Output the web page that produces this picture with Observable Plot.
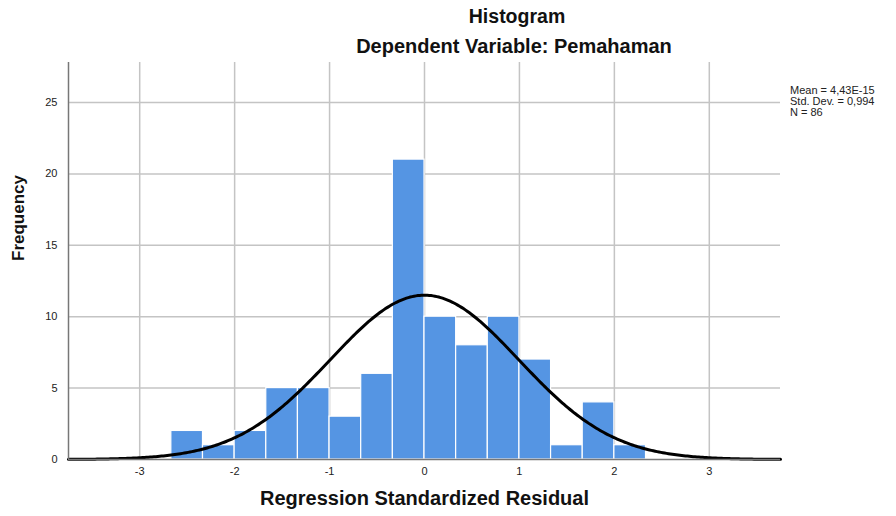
<!DOCTYPE html>
<html>
<head>
<meta charset="utf-8">
<script src="https://cdn.jsdelivr.net/npm/d3@7"></script>
<script src="https://cdn.jsdelivr.net/npm/@observablehq/plot@0.6"></script>
<style>
  html, body { margin: 0; padding: 0; background: #fff; }
  #wrap { position: relative; width: 896px; height: 516px; font-family: "Liberation Sans", Arial, sans-serif; }
  .t { position: absolute; font-weight: bold; color: #111; white-space: nowrap; line-height: 23px; }
  #stats { position: absolute; left: 790px; top: 85px; font-size: 11px; line-height: 11px; color: #222; }
</style>
</head>
<body>
<div id="wrap">
  <div id="chart"></div>
  <div class="t" style="left:0;width:1034px;text-align:center;top:5px;font-size:19.5px;">Histogram</div>
  <div class="t" style="left:0;width:1028px;text-align:center;top:35px;font-size:20px;">Dependent Variable: Pemahaman</div>
  <div id="stats">Mean = 4,43E-15<br>Std. Dev. = 0,994<br>N = 86</div>
</div>
<script>
// Histogram bins (lower edges, width 1/3) and counts
const binLower = [-8/3, -7/3, -6/3, -5/3, -4/3, -3/3, -2/3, -1/3, 0, 1/3, 2/3, 3/3, 4/3, 5/3, 6/3];
const binWidth = 1/3;
const counts = [2, 1, 2, 5, 5, 3, 6, 21, 10, 8, 10, 7, 1, 4, 1];
const xTicks = [-3, -2, -1, 0, 1, 2, 3];
const yTicks = [0, 5, 10, 15, 20, 25];
const mean = 4.43e-15, sd = 0.994, n = 86;

const bars = binLower.map((lo, i) => ({x1: lo, x2: lo + binWidth, y: counts[i]}));
const curve = d3.range(-3.75, 3.7501, 0.02).map(x => ({
  x, y: n * binWidth * Math.exp(-0.5 * ((x - mean) / sd) ** 2) / (sd * Math.sqrt(2 * Math.PI))
}));
const fmt = d => String(d);

const chart = Plot.plot({
  width: 896, height: 516,
  marginLeft: 68, marginRight: 116, marginTop: 62, marginBottom: 57,
  style: {fontFamily: "Liberation Sans, Arial, sans-serif", fontSize: "11px", color: "#222"},
  x: {domain: [-3.75, 3.75], label: null},
  y: {domain: [0, 27.8], label: null},
  marks: [
    Plot.ruleX(xTicks, {stroke: "#c4c4c4", strokeWidth: 1.5}),
    Plot.ruleY(yTicks.filter(d => d > 0), {stroke: "#c4c4c4", strokeWidth: 1.5}),
    Plot.rectY(bars, {x1: "x1", x2: "x2", y: "y", fill: "#5595e3", stroke: "#ffffff", strokeWidth: 1.2}),
    Plot.line(curve, {x: "x", y: "y", stroke: "#000", strokeWidth: 3}),
    Plot.ruleX([-3.75], {stroke: "#777", strokeWidth: 1.5}),
    Plot.ruleY([0], {stroke: "#777", strokeWidth: 1.5}),
    Plot.axisX({ticks: xTicks, tickSize: 0, tickPadding: 8, tickFormat: fmt, label: null}),
    Plot.axisY({ticks: yTicks, tickSize: 0, tickPadding: 11, tickFormat: fmt, label: null}),
    Plot.text(["Regression Standardized Residual"], {frameAnchor: "bottom", dy: 45, fontSize: 20, fontWeight: "bold", fill: "#111"}),
    Plot.text(["Frequency"], {frameAnchor: "left", dx: -50, rotate: -90, fontSize: 17, fontWeight: "bold", fill: "#111"})
  ]
});
document.getElementById("chart").appendChild(chart);
</script>
</body>
</html>
